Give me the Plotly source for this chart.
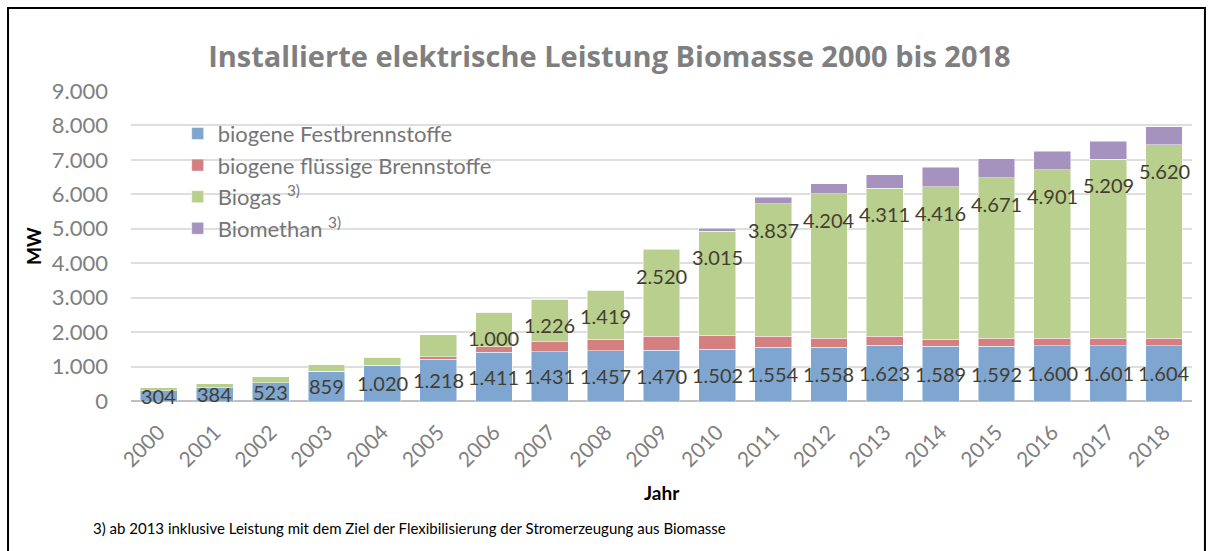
import plotly.graph_objs as go

# Installierte elektrische Leistung Biomasse (MW)
years = [str(y) for y in range(2000, 2019)]
festbrennstoffe = [304, 384, 523, 859, 1020, 1218, 1411, 1431, 1457, 1470,
                   1502, 1554, 1558, 1623, 1589, 1592, 1600, 1601, 1604]
fluessig = [0, 0, 0, 10, 15, 60, 165, 290, 340, 405,
            405, 330, 260, 250, 210, 225, 215, 215, 212]
biogas = [75, 110, 175, 190, 240, 640, 1000, 1226, 1419, 2520,
          3015, 3837, 4204, 4311, 4416, 4671, 4901, 5209, 5620]
biomethan = [0, 0, 0, 0, 0, 0, 0, 15, 10, 15,
             95, 200, 280, 385, 565, 540, 530, 510, 525]
biogas_labelled_from = "2006"

FONT = "Lato"
GREY = "#7f7f7f"
LABEL = "#433e30"


def de(n):
    # German thousands separator
    return f"{n:,}".replace(",", ".")


series = [
    ("biogene Festbrennstoffe", festbrennstoffe, "#7fa6d0"),
    ("biogene flüssige Brennstoffe", fluessig, "#d47f80"),
    ("Biogas <sup>3)</sup>", biogas, "#b9cf8d"),
    ("Biomethan <sup>3)</sup>", biomethan, "#a592bf"),
]

data = [go.Bar(
    x=years,
    y=vals,
    name=name,
    marker=dict(color=col, line=dict(color="rgba(255,255,255,0.6)", width=0.8)),
) for name, vals, col in series]

annotations = []
# labels for solid biomass, centred in the segment
# (category axis: annotations are placed by category index)
for i, v in enumerate(festbrennstoffe):
    annotations.append(dict(x=i, y=v / 2, text=de(v), showarrow=False,
                            font=dict(family=FONT, size=20, color=LABEL)))
# labels for biogas, just inside the top of the green segment
start = years.index(biogas_labelled_from)
for i in range(start, len(years)):
    top = festbrennstoffe[i] + fluessig[i] + biogas[i]
    annotations.append(dict(x=i, y=top, yshift=-26, text=de(biogas[i]),
                            showarrow=False,
                            font=dict(family=FONT, size=20, color=LABEL)))

# axis titles and footnote
annotations += [
    dict(text="<b>Jahr</b>", x=0.5, y=-0.339, xref="paper", yref="paper",
         showarrow=False, font=dict(family=FONT, size=19, color="black")),
    dict(text="<b>MW</b>", x=-0.105, y=0.5, xref="paper", yref="paper",
         textangle=-90, showarrow=False,
         font=dict(family=FONT, size=19, color="black")),
    dict(text="3) ab 2013 inklusive Leistung mit dem Ziel der Flexibilisierung der Stromerzeugung aus Biomasse",
         x=-0.038, y=-0.445, xref="paper", yref="paper", xanchor="left",
         showarrow=False, font=dict(family=FONT, size=15, color="black")),
]

layout = go.Layout(
    width=1214, height=551,
    barmode="stack",
    bargap=0.34,
    separators=",.",
    paper_bgcolor="white",
    plot_bgcolor="white",
    margin=dict(l=131, r=22, t=91, b=150),
    title=dict(text="<b>Installierte elektrische Leistung Biomasse 2000 bis 2018</b>",
               x=0.502, xref="container", y=0.897, yref="container",
               xanchor="center", yanchor="middle",
               font=dict(family="Open Sans", size=29, color=GREY)),
    xaxis=dict(type="category", tickangle=-45, showgrid=False,
               ticklabelstandoff=14,
               tickfont=dict(family=FONT, size=21, color=GREY)),
    yaxis=dict(range=[0, 9000], dtick=1000, tickformat=",d",
               showgrid=True, gridcolor="#dedede", gridwidth=1.5,
               zeroline=True, zerolinecolor="#bfbfbf", zerolinewidth=2,
               ticklabelstandoff=22,
               tickfont=dict(family=FONT, size=22, color=GREY)),
    legend=dict(x=0.044, y=0.93, xanchor="left", yanchor="top",
                traceorder="normal", bgcolor="rgba(0,0,0,0)",
                font=dict(family=FONT, size=22, color="#767676")),
    annotations=annotations,
    shapes=[dict(type="rect", xref="paper", yref="paper",
                 x0=-0.1159, x1=1.0122, y0=-0.6, y1=1.268,
                 line=dict(color="black", width=2))],
)

fig = go.Figure(data=data, layout=layout)
# drop the default page margin so the chart sits at the window's corner
fig.write_html("out.html", config={"displayModeBar": False},
               post_script="document.body.style.margin = '0';")
